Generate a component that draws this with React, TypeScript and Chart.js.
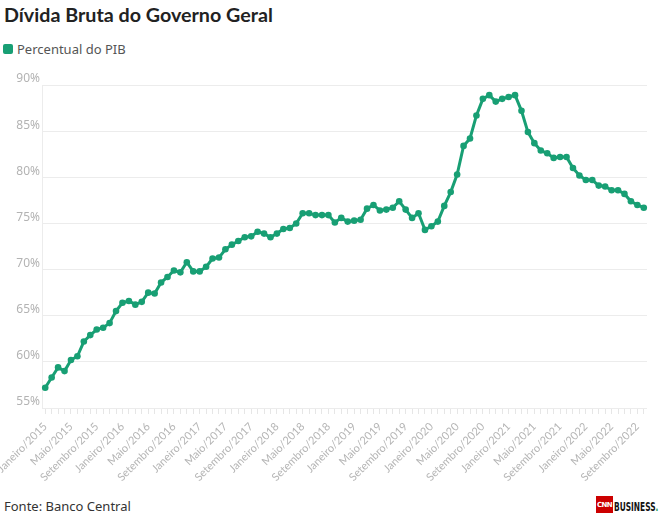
import React, { useEffect, useRef } from "react";
import { Chart, registerables } from "chart.js";

Chart.register(...registerables);

const monthNames = [
  "Janeiro", "Fevereiro", "Março", "Abril", "Maio", "Junho",
  "Julho", "Agosto", "Setembro", "Outubro", "Novembro", "Dezembro",
];
const years = [2015, 2016, 2017, 2018, 2019, 2020, 2021, 2022];
const lastMonthIndex2022 = 9; // Outubro/2022

const categories: string[] = [];
years.forEach((y) => {
  monthNames.forEach((m, mi) => {
    if (y === 2022 && mi > lastMonthIndex2022) return;
    categories.push(`${m}/${y}`);
  });
});

const debtPctGdp = [
  57.2, 58.3, 59.4, 59.0, 60.2, 60.6, 62.2, 62.9, 63.5, 63.7, 64.2, 65.5,
  66.4, 66.6, 66.2, 66.5, 67.5, 67.4, 68.6, 69.2, 69.9, 69.7, 70.8, 69.8,
  69.8, 70.3, 71.2, 71.3, 72.2, 72.7, 73.1, 73.5, 73.6, 74.1, 73.9, 73.5,
  73.9, 74.4, 74.5, 75.0, 76.1, 76.1, 75.9, 75.9, 75.9, 75.1, 75.6, 75.2,
  75.3, 75.4, 76.6, 77.0, 76.4, 76.5, 76.7, 77.4, 76.5, 75.6, 76.1, 74.3,
  74.7, 75.2, 76.9, 78.4, 80.3, 83.4, 84.2, 86.7, 88.5, 88.9, 88.2, 88.5,
  88.7, 88.9, 87.2, 84.9, 83.7, 82.9, 82.6, 82.1, 82.2, 82.2, 81.0, 80.2,
  79.7, 79.7, 79.1, 79.0, 78.6, 78.6, 78.2, 77.4, 77.0, 76.7,
];

const yTicks = [55, 60, 65, 70, 75, 80, 85, 90];
const seriesName = "Percentual do PIB";
const title = "Dívida Bruta do Governo Geral";
const source = "Fonte: Banco Central";

const GREEN = "#189f74";
const FONT = "'Noto Sans', sans-serif";

export default function App() {
  const canvasRef = useRef<HTMLCanvasElement | null>(null);

  useEffect(() => {
    const canvas = canvasRef.current;
    if (!canvas) return;
    const chart = new Chart(canvas, {
      type: "line",
      data: {
        labels: categories,
        datasets: [
          {
            label: seriesName,
            data: debtPctGdp,
            borderColor: GREEN,
            backgroundColor: GREEN,
            borderWidth: 3,
            pointRadius: 3.3,
            pointBorderWidth: 0,
            pointBackgroundColor: GREEN,
            tension: 0,
          },
        ],
      },
      options: {
        animation: false,
        responsive: false,
        maintainAspectRatio: false,
        layout: { padding: { top: 25, right: 12, left: 0, bottom: 0 } },
        plugins: {
          legend: { display: false },
          tooltip: { enabled: false },
        },
        scales: {
          x: {
            type: "category",
            offset: true,
            grid: {
              offset: false,
              drawOnChartArea: false,
              drawTicks: true,
              tickLength: 6,
              color: "#e6e6e6",
            },
            border: { display: false },
            ticks: {
              autoSkip: false,
              minRotation: 45,
              maxRotation: 45,
              padding: 6,
              color: "#b5b5b5",
              font: { family: "Lato, sans-serif", size: 11 },
              callback: (_v: any, i: number) => (i % 4 === 0 ? categories[i] : ""),
            },
            afterFit: (scale: any) => {
              scale.paddingLeft = 0;
              scale.paddingRight = 0;
              scale.height = 80;
            },
          },
          y: {
            min: 55,
            max: 90,
            afterBuildTicks: (scale: any) => {
              scale.ticks = yTicks.map((v) => ({ value: v }));
            },
            grid: { color: "#ececec", drawTicks: false, lineWidth: 1 },
            border: { display: true, color: "#ececec" },
            ticks: {
              padding: 2,
              labelOffset: -6,
              color: "#b3b3b3",
              font: { family: FONT, size: 12 },
              callback: (v: any) => `${v}%`,
            },
            afterFit: (scale: any) => {
              scale.width = 42;
              scale.paddingTop = 0;
              scale.paddingBottom = 0;
            },
          },
        },
      },
    });
    return () => chart.destroy();
  }, []);

  return (
    <div
      style={{
        position: "fixed",
        left: 0,
        top: 0,
        width: 659,
        height: 519,
        background: "#fff",
        fontFamily: FONT,
        overflow: "hidden",
      }}
    >
      <div
        style={{
          position: "absolute",
          left: 4,
          top: 3,
          fontSize: 19.7,
          fontWeight: 700,
          color: "#222",
          fontFamily: "Lato, sans-serif",
          whiteSpace: "nowrap",
        }}
      >
        {title}
      </div>
      <div
        style={{
          position: "absolute",
          left: 3,
          top: 40,
          display: "flex",
          alignItems: "center",
          fontSize: 13,
          color: "#555",
        }}
      >
        <span
          style={{
            display: "inline-block",
            width: 10,
            height: 10,
            borderRadius: 2,
            background: GREEN,
            marginRight: 4,
          }}
        />
        <span>{seriesName}</span>
      </div>
      <canvas
        ref={canvasRef}
        width={659}
        height={428}
        style={{ position: "absolute", left: 0, top: 60, width: 659, height: 428 }}
      />
      <div
        style={{
          position: "absolute",
          left: 4,
          top: 497,
          fontSize: 13,
          color: "#333",
          whiteSpace: "nowrap",
        }}
      >
        {source}
      </div>
      <div
        style={{
          position: "absolute",
          left: 596,
          top: 496,
          height: 17,
          display: "flex",
          alignItems: "center",
        }}
      >
        <div
          style={{
            width: 17,
            height: 17,
            background: "#cc0000",
            color: "#fff",
            fontSize: 7,
            fontWeight: 700,
            display: "flex",
            alignItems: "center",
            justifyContent: "center",
            fontFamily: "'DejaVu Sans', sans-serif",
            letterSpacing: -0.6,
          }}
        >
          CNN
        </div>
        <div
          style={{
            marginLeft: 1,
            width: 44,
            overflow: "visible",
            whiteSpace: "nowrap",
          }}
        >
          <span
            style={{
              display: "inline-block",
              fontSize: 12,
              fontWeight: 700,
              color: "#111",
              fontFamily: "'DejaVu Sans', sans-serif",
              transform: "scaleX(0.62)",
              transformOrigin: "left center",
              lineHeight: "17px",
            }}
          >
            BUSINESS<span style={{ color: "#2a9d5c" }}>.</span>
          </span>
        </div>
      </div>
    </div>
  );
}
